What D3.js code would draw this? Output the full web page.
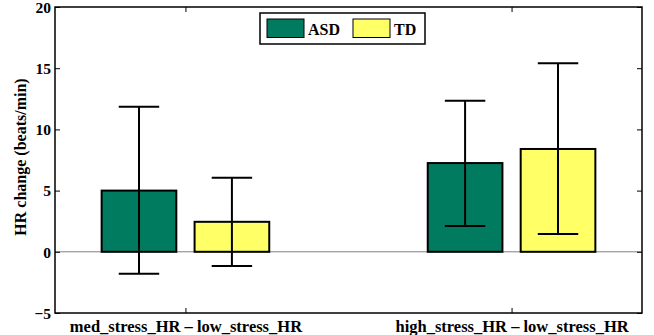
<!DOCTYPE html>
<html><head><meta charset="utf-8">
<script src="https://cdn.jsdelivr.net/npm/d3@7"></script>
<style>body{margin:0;background:#fff}svg{display:block}</style>
</head><body>
<script>
const categories = ["med_stress_HR \u2013 low_stress_HR", "high_stress_HR \u2013 low_stress_HR"];
const seriesNames = ["ASD", "TD"];
const asdMean = [5.0, 7.25];
const asdLow = [-1.8, 2.1];
const asdHigh = [11.85, 12.35];
const tdMean = [2.45, 8.4];
const tdLow = [-1.15, 1.45];
const tdHigh = [6.05, 15.4];
const yTicks = [-5, 0, 5, 10, 15, 20];
const colors = ["#007b5f", "#ffff66"];

const FONT = "'Liberation Serif', 'Times New Roman', Times, serif";
const W = 654, H = 335;
const svg = d3.select("body").append("svg").attr("width", W).attr("height", H);
const x = d3.scaleLinear().domain([0.6, 2.4]).range([55, 642]);
const y = d3.scaleLinear().domain([-5, 20]).range([313, 7]);
const barW = 0.229, off = 0.1425, capW = 0.062;

// zero line
svg.append("line").attr("x1", x(0.6)).attr("x2", x(2.4)).attr("y1", y(0)).attr("y2", y(0))
  .attr("stroke", "#808080").attr("stroke-width", 1);

const series = [
  {name: seriesNames[0], mean: asdMean, lo: asdLow, hi: asdHigh, color: colors[0], dx: -off},
  {name: seriesNames[1], mean: tdMean, lo: tdLow, hi: tdHigh, color: colors[1], dx: off}
];

series.forEach(s => {
  const g = svg.append("g");
  s.mean.forEach((v, i) => {
    const cx = i + 1 + s.dx;
    g.append("rect").attr("x", x(cx - barW / 2)).attr("width", x(cx + barW / 2) - x(cx - barW / 2))
      .attr("y", y(Math.max(0, v))).attr("height", Math.abs(y(v) - y(0)))
      .attr("fill", s.color).attr("stroke", "#000").attr("stroke-width", 2);
  });
  s.mean.forEach((v, i) => {
    const cx = i + 1 + s.dx;
    g.append("line").attr("x1", x(cx)).attr("x2", x(cx)).attr("y1", y(s.lo[i])).attr("y2", y(s.hi[i]))
      .attr("stroke", "#000").attr("stroke-width", 2);
    [s.lo[i], s.hi[i]].forEach(e => {
      g.append("line").attr("x1", x(cx - capW)).attr("x2", x(cx + capW)).attr("y1", y(e)).attr("y2", y(e))
        .attr("stroke", "#000").attr("stroke-width", 2);
    });
  });
});

// axes
const tickLen = 5;
const yl = d3.axisLeft(y).tickValues(yTicks).tickSizeInner(-tickLen).tickSizeOuter(0).tickPadding(4)
  .tickFormat(d => d < 0 ? "\u2212" + Math.abs(d) : d);
const ag = svg.append("g").attr("transform", `translate(${x(0.6)},0)`).call(yl);
ag.select(".domain").remove();
ag.selectAll("line").attr("stroke", "#000");
ag.selectAll("text").attr("dy", "0.34em");

const yr = d3.axisRight(y).tickValues(yTicks).tickSizeInner(-tickLen).tickSizeOuter(0).tickFormat("");
const ar = svg.append("g").attr("transform", `translate(${x(2.4)},0)`).call(yr);
ar.select(".domain").remove();
ar.selectAll("line").attr("stroke", "#000");

const xb = d3.axisBottom(x).tickValues([1, 2]).tickSizeInner(-tickLen).tickSizeOuter(0).tickPadding(7)
  .tickFormat((d, i) => categories[i]);
const bg = svg.append("g").attr("transform", `translate(0,${y(-5)})`).call(xb);
bg.select(".domain").remove();
bg.selectAll("line").attr("stroke", "#000");

const xt = d3.axisTop(x).tickValues([1, 2]).tickSizeInner(-tickLen).tickSizeOuter(0).tickFormat("");
const tg = svg.append("g").attr("transform", `translate(0,${y(20)})`).call(xt);
tg.select(".domain").remove();
tg.selectAll("line").attr("stroke", "#000");

// box
svg.append("rect").attr("x", x(0.6)).attr("y", y(20)).attr("width", x(2.4) - x(0.6)).attr("height", y(-5) - y(20))
  .attr("fill", "none").attr("stroke", "#000").attr("stroke-width", 1.5);

// y label
svg.append("text").attr("transform", `translate(26,157) rotate(-90)`)
  .attr("text-anchor", "middle").text("HR change (beats/min)");

// legend
const lg = svg.append("g");
lg.append("rect").attr("x", 260).attr("y", 13).attr("width", 165).attr("height", 31)
  .attr("fill", "#fff").attr("stroke", "#000").attr("stroke-width", 1.5);
const legX = [267, 353];
series.forEach((s, i) => {
  lg.append("rect").attr("x", legX[i]).attr("y", 19).attr("width", 37).attr("height", 18.5)
    .attr("fill", s.color).attr("stroke", "#000").attr("stroke-width", 1);
  lg.append("text").attr("x", legX[i] + 41).attr("y", 34.5).text(s.name);
});

svg.selectAll("text").style("font-family", FONT).style("font-weight", "bold")
  .style("font-size", "16px").attr("fill", "#000");
ag.selectAll("text").style("font-size", "15.5px");
bg.selectAll("text").style("font-size", "16.5px");
</script>
</body></html>
